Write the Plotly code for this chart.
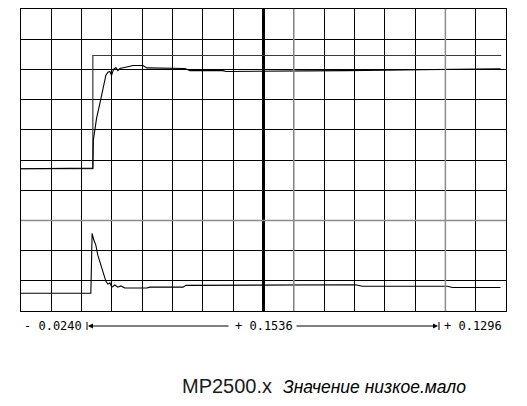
import plotly.graph_objects as go

# time base (s): pre-trigger 0.0240, window 0.1536, post-trigger 0.1296
T_START = -0.0240
T_WINDOW = 0.1536
T_END = 0.1296
T_DIV = T_WINDOW / 16

# setpoint step (upper channel), y in screen divisions
setpoint_t = [-0.0240, -0.00125, 0.12808]
setpoint_y = [4.71, 8.46, 8.46]

# response (upper channel)
response_t = [
    -0.0240, -0.00125, -0.00109, -0.00008, 0.00097, 0.00192, 0.00287, 0.00351,
    0.00414, 0.00468, 0.00531, 0.00604, 0.00668, 0.00731, 0.00826, 0.00985,
    0.01144, 0.01461, 0.01588, 0.02477, 0.02794, 0.02953, 0.03999, 0.04094,
    0.06442, 0.06601, 0.07869, 0.08662, 0.10090, 0.10883, 0.11993, 0.12786,
]
response_y = [
    4.71, 4.73, 5.65, 6.38, 6.87, 7.37, 7.80, 7.91,
    7.93, 7.80, 8.00, 8.06, 7.96, 8.03, 8.06, 8.09,
    8.13, 8.13, 8.05, 8.05, 8.03, 7.96, 7.96, 7.93,
    7.93, 7.95, 7.96, 7.97, 8.00, 8.01, 8.01, 8.02,
]

# lower channel
output_t = [
    -0.0240, -0.00189, -0.00179, -0.00148, -0.00094, -0.00030, 0.00033, 0.00097,
    0.00160, 0.00224, 0.00287, 0.00351, 0.00414, 0.00478, 0.00573, 0.00668,
    0.00763, 0.00890, 0.01588, 0.01683, 0.02730, 0.02826, 0.04634, 0.04729,
    0.08187, 0.08409, 0.11105, 0.11263, 0.12786,
]
output_y = [
    0.59, 0.59, 1.02, 2.57, 2.35, 2.18, 1.85, 1.62,
    1.42, 1.19, 0.99, 0.89, 0.93, 0.79, 0.86, 0.79,
    0.83, 0.76, 0.76, 0.79, 0.79, 0.85, 0.85, 0.87,
    0.87, 0.82, 0.82, 0.78, 0.78,
]

time_labels = ["- 0.0240", "+ 0.1536", "+ 0.1296"]
title_main = "MP2500.x"
title_sub = "Значение низкое.мало"

# the page body keeps its 8px default margin, so the figure is sized to fit
OFF = 8
W, H = 527 - OFF, 406 - OFF
ML, MR, MT, MB = 13, 21, 1, 95
PLOT_W = W - ML - MR
PLOT_H = H - MT - MB


def px_x(px):
    return (px - OFF - ML) / PLOT_W


def px_y(py):
    return (H + OFF - MB - py) / PLOT_H


fig = go.Figure()
fig.add_trace(go.Scatter(x=setpoint_t, y=setpoint_y, mode="lines",
                         line=dict(color="#3a3a3a", width=1.2, shape="hv")))
fig.add_trace(go.Scatter(x=response_t, y=response_y, mode="lines",
                         line=dict(color="black", width=1.1)))
fig.add_trace(go.Scatter(x=output_t, y=output_y, mode="lines",
                         line=dict(color="black", width=1.1)))

axis_common = dict(showgrid=True, gridcolor="black", gridwidth=1.3,
                   zeroline=False, showticklabels=False, ticks="",
                   showline=True, mirror=True, linecolor="black", linewidth=1.3)

fig.update_layout(
    width=W, height=H,
    margin=dict(l=ML, r=MR, t=MT, b=MB),
    paper_bgcolor="white", plot_bgcolor="white",
    showlegend=False,
    xaxis=dict(range=[T_START, T_END], tick0=T_START, dtick=T_DIV, **axis_common),
    yaxis=dict(range=[0, 10], tick0=0, dtick=1, **axis_common),
)

# centre line and the grey grid lines
fig.add_shape(type="line", xref="x", yref="paper", x0=T_START + 8 * T_DIV,
              x1=T_START + 8 * T_DIV, y0=0, y1=1, layer="between",
              line=dict(color="black", width=3))
for d in (9, 14):
    fig.add_shape(type="line", xref="x", yref="paper", x0=T_START + d * T_DIV,
                  x1=T_START + d * T_DIV, y0=0, y1=1, layer="above",
                  line=dict(color="#8c8c8c", width=1.5))
fig.add_shape(type="line", xref="paper", yref="y", x0=0, x1=1, y0=3, y1=3,
              layer="above", line=dict(color="#8c8c8c", width=1.5))

# time base readout under the grid
ty = px_y(326)
mono = dict(family="DejaVu Sans Mono", size=12, color="black")
fig.add_annotation(x=0, y=ty, xref="paper", yref="paper", text=time_labels[0],
                   showarrow=False, xanchor="left", yanchor="middle", xshift=1, font=mono)
fig.add_annotation(x=0.5, y=ty, xref="paper", yref="paper", text=time_labels[1],
                   showarrow=False, xanchor="center", yanchor="middle", font=mono)
fig.add_annotation(x=1, y=ty, xref="paper", yref="paper", text=time_labels[2],
                   showarrow=False, xanchor="right", yanchor="middle", xshift=-2, font=mono)
for head, tail in ((88, 230), (438, 295)):
    fig.add_annotation(x=px_x(head), y=ty, xref="paper", yref="paper", text="",
                       showarrow=True, ax=tail - head, ay=0, arrowhead=2,
                       arrowsize=1, arrowwidth=1, arrowcolor="black")
    bar = head - 1 if head < 200 else head + 1
    fig.add_shape(type="line", xref="paper", yref="paper", x0=px_x(bar), x1=px_x(bar),
                  y0=px_y(322), y1=px_y(330), line=dict(color="black", width=1))

# caption
fig.add_annotation(x=px_x(180), y=px_y(386), xref="paper", yref="paper", text=title_main,
                   showarrow=False, xanchor="left", yanchor="middle",
                   font=dict(family="Liberation Sans", size=20, color="#1a1a1a"))
fig.add_annotation(x=px_x(281), y=px_y(387), xref="paper", yref="paper",
                   text="<i>" + title_sub + "</i>", showarrow=False,
                   xanchor="left", yanchor="middle",
                   font=dict(family="Liberation Sans", size=17.5, color="black"))

fig.write_html("out.html")
